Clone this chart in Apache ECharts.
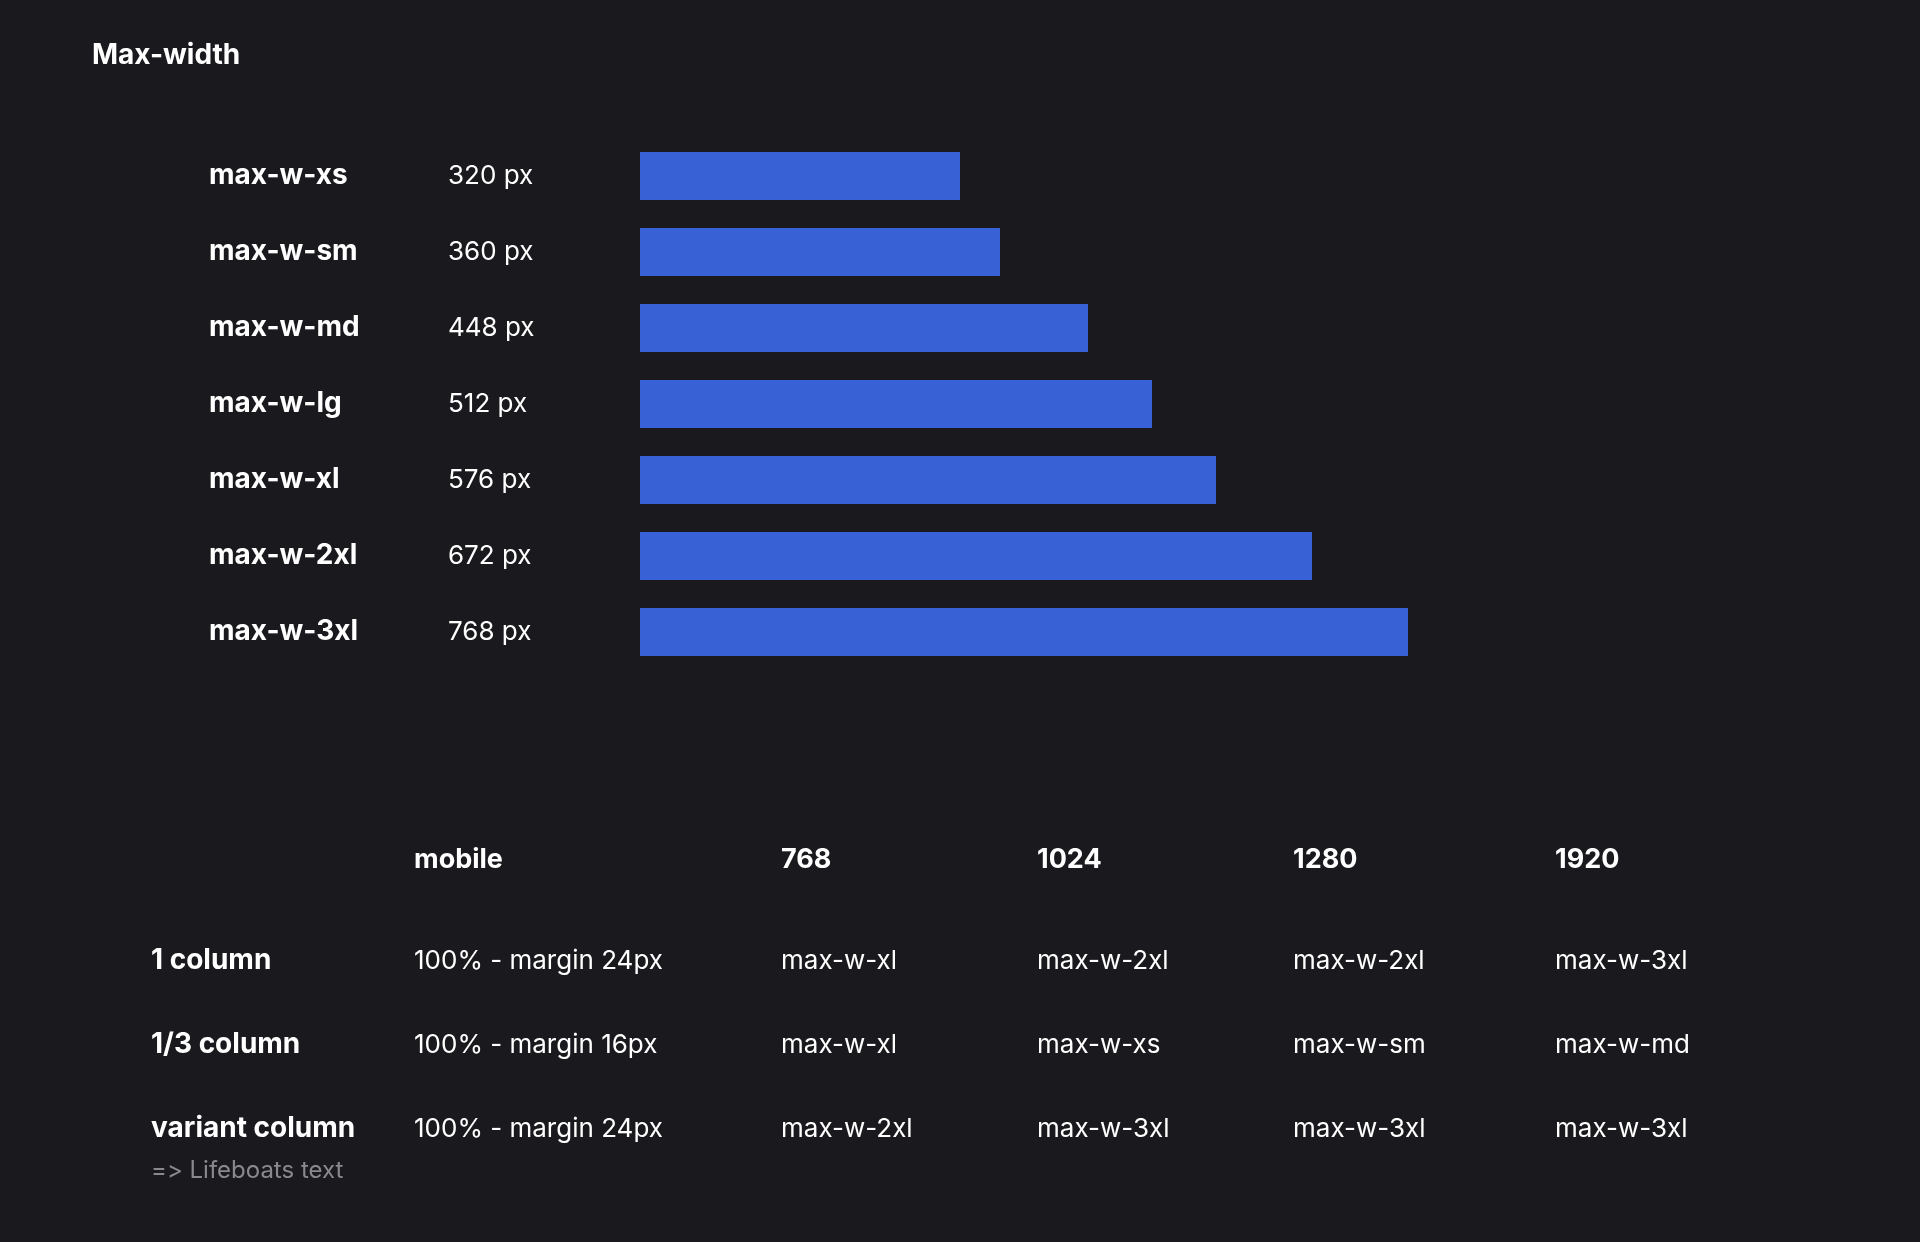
<!DOCTYPE html>
<html>
<head>
    <meta charset="UTF-8"/>
    <title>Max-width</title>
    <script type="text/javascript" src="https://cdn.jsdelivr.net/npm/echarts@6/dist/echarts.min.js"></script>
    <style>
        html, body { margin: 0; padding: 0; background: #1a191e; }
    </style>
</head>
<body>

<div id="main" style="width: 1920px;height:1242px;"></div>

<script type="text/javascript">
    // sizes shown as bars
    var sizeNames = ['max-w-xs', 'max-w-sm', 'max-w-md', 'max-w-lg', 'max-w-xl', 'max-w-2xl', 'max-w-3xl'];
    var sizeWidths = [320, 360, 448, 512, 576, 672, 768];

    // table under the chart
    var breakpoints = ['mobile', '768', '1024', '1280', '1920'];
    var layoutRows = ['1 column', '1/3 column', 'variant column'];
    var oneColumn = ['100% - margin 24px', 'max-w-xl', 'max-w-2xl', 'max-w-2xl', 'max-w-3xl'];
    var thirdColumn = ['100% - margin 16px', 'max-w-xl', 'max-w-xs', 'max-w-sm', 'max-w-md'];
    var variantColumn = ['100% - margin 24px', 'max-w-2xl', 'max-w-3xl', 'max-w-3xl', 'max-w-3xl'];
    var note = '=\u200C> Lifeboats text';

    var FONT = 'Inter, "Open Sans", sans-serif';
    var colX = [414, 781, 1037, 1293, 1555];
    var rowY = [961, 1045, 1129];

    var myChart = echarts.init(document.getElementById('main'));

    // table texts as graphic elements
    var graphics = [];
    function addText(x, y, text, weight, color, size) {
        graphics.push({
            type: 'text',
            x: x,
            y: y,
            style: {
                text: text,
                fill: color,
                font: weight + ' ' + size + 'px ' + FONT,
                verticalAlign: 'middle',
                align: 'left'
            }
        });
    }
    breakpoints.forEach(function (b, i) {
        addText(colX[i], 860, b, 'bold', '#ffffff', 27);
    });
    var cells = [oneColumn, thirdColumn, variantColumn];
    layoutRows.forEach(function (r, j) {
        addText(151, rowY[j], r, 'bold', '#ffffff', 28);
        cells[j].forEach(function (c, i) {
            addText(colX[i], rowY[j], c, 'normal', '#ffffff', 26);
        });
    });
    addText(151, 1171, note, 'normal', '#8a8a8e', 24);

    option = {
        backgroundColor: '#1a191e',
        animation: false,
        title: {
            text: 'Max-width',
            left: 87,
            top: 37,
            textStyle: {
                color: '#ffffff',
                fontFamily: FONT,
                fontWeight: 'bold',
                fontSize: 28
            }
        },
        grid: {
            left: 640,
            top: 138,
            width: 1000,
            height: 532
        },
        xAxis: {
            type: 'value',
            min: 0,
            max: 1000,
            show: false
        },
        yAxis: {
            type: 'category',
            inverse: true,
            data: sizeNames,
            axisLine: {show: false},
            axisTick: {show: false},
            splitLine: {show: false},
            axisLabel: {
                align: 'left',
                margin: 431,
                formatter: function (value, idx) {
                    return '{n|' + value + '}{v|' + sizeWidths[idx] + ' px}';
                },
                rich: {
                    n: {
                        width: 239,
                        color: '#ffffff',
                        fontFamily: FONT,
                        fontWeight: 'bold',
                        fontSize: 28
                    },
                    v: {
                        color: '#ffffff',
                        fontFamily: FONT,
                        fontWeight: 'normal',
                        fontSize: 26
                    }
                }
            }
        },
        series: [{
            type: 'bar',
            data: sizeWidths,
            barWidth: 48,
            itemStyle: {color: '#3761d4'}
        }],
        graphic: graphics
    };
    myChart.setOption(option);
</script>
</body>
</html>
